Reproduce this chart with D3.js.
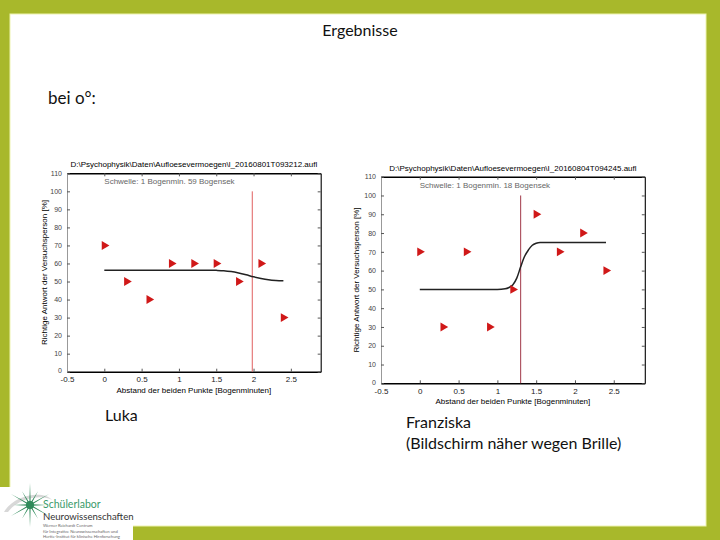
<!DOCTYPE html>
<html>
<head>
<meta charset="utf-8">
<script src="https://cdn.jsdelivr.net/npm/d3@7"></script>
<style>
  body { margin: 0; padding: 0; background: #fff; }
  svg { display: block; }
</style>
</head>
<body>
<div id="slide"></div>
<script>
// ---- data ----
const xTicks = [-0.5, 0, 0.5, 1, 1.5, 2, 2.5];
const yTicks = [0, 10, 20, 30, 40, 50, 60, 70, 80, 90, 100, 110];

// Luka
const lukaX = [0, 0.3, 0.6, 0.9, 1.2, 1.5, 1.8, 2.1, 2.4];
const lukaY = [70, 50, 40, 60, 60, 60, 50, 60, 30];
const lukaCurveX = [0, 0.5, 1.0, 1.4, 1.5, 1.6, 1.7, 1.8, 1.9, 2.0, 2.1, 2.2, 2.3, 2.4];
const lukaCurveY = [56.3, 56.3, 56.3, 56.3, 56.2, 56.0, 55.5, 54.7, 53.7, 52.6, 51.7, 51.0, 50.6, 50.4];
const lukaThreshold = 1.983;

// Franziska
const franzX = [0, 0.3, 0.6, 0.9, 1.2, 1.5, 1.8, 2.1, 2.4];
const franzY = [70, 30, 70, 30, 50, 90, 70, 80, 60];
const franzCurveX = [0, 0.5, 1.0, 1.1, 1.15, 1.2, 1.25, 1.3, 1.35, 1.4, 1.45, 1.5, 1.55, 1.6, 2.0, 2.4];
const franzCurveY = [50, 50, 50, 50.3, 51, 52.5, 56, 62, 67.5, 71, 73.5, 74.6, 75, 75, 75, 75];
const franzThreshold = 1.3;

const W = 720, H = 540;
const svg = d3.select("#slide").append("svg")
  .attr("width", W).attr("height", H)
  .style("font-family", "Lato, 'Open Sans', sans-serif");

// slide frame
svg.append("rect").attr("width", W).attr("height", H).attr("fill", "#a8b82b");
svg.append("rect").attr("x", 10).attr("y", 14).attr("width", 696).attr("height", 512)
  .attr("fill", "#fff").attr("stroke", "#eef3b0").attr("stroke-width", 1);

// slide texts
svg.append("text").attr("x", 360).attr("y", 36).attr("text-anchor", "middle")
  .attr("font-size", 16).attr("fill", "#111").text("Ergebnisse");
svg.append("text").attr("x", 48).attr("y", 104)
  .attr("font-size", 17).attr("fill", "#111").text("bei o°:");
svg.append("text").attr("x", 105).attr("y", 421)
  .attr("font-size", 16).attr("fill", "#111").text("Luka");
svg.append("text").attr("x", 406).attr("y", 428)
  .attr("font-size", 16).attr("fill", "#111").text("Franziska");
svg.append("text").attr("x", 406).attr("y", 449)
  .attr("font-size", 16).attr("fill", "#111").text("(Bildschirm näher wegen Brille)");

function drawChart(cfg) {
  const x = d3.scaleLinear().domain([-0.5, 2.9]).range([cfg.left, cfg.right]);
  const y = d3.scaleLinear().domain([0, 110]).range([cfg.bottom, cfg.top]);
  const g = svg.append("g").style("font-family", "'Liberation Sans', Arial, sans-serif");
  const fmt = d => String(d);

  // axes with inward ticks (MATLAB style)
  g.append("g").attr("class", "xb").attr("transform", `translate(0,${cfg.bottom})`)
    .call(d3.axisBottom(x).tickValues(xTicks).tickFormat(fmt).tickSizeInner(-3).tickSizeOuter(0).tickPadding(5))
    .call(a => a.selectAll("text").attr("font-size", 8).attr("fill", "#222"));
  g.append("g").attr("class", "xt").attr("transform", `translate(0,${cfg.top})`)
    .call(d3.axisTop(x).tickValues(xTicks).tickFormat("").tickSizeInner(-3).tickSizeOuter(0));
  g.append("g").attr("class", "yl").attr("transform", `translate(${cfg.left},0)`)
    .call(d3.axisLeft(y).tickValues(yTicks).tickFormat(fmt).tickSizeInner(-3).tickSizeOuter(0).tickPadding(5))
    .call(a => a.selectAll("text").attr("font-size", 7).attr("fill", "#444"))
    .call(a => a.selectAll(".tick").filter(d => d === 0).select("text").attr("dy", "0.1em"));
  g.append("g").attr("class", "yr").attr("transform", `translate(${cfg.right},0)`)
    .call(d3.axisRight(y).tickValues(yTicks).tickFormat("").tickSizeInner(-3).tickSizeOuter(0));
  g.selectAll(".tick line").attr("stroke", "#555");
  g.selectAll(".xb .domain, .xt .domain").attr("stroke", "#000").attr("stroke-width", 1.4);
  g.selectAll(".yr .domain").attr("stroke", "#000").attr("stroke-width", 1.1);
  g.selectAll(".yl .domain").attr("stroke", "#999");

  // title + threshold note
  g.append("text").attr("x", (cfg.left + cfg.right) / 2).attr("y", cfg.top - 6)
    .attr("text-anchor", "middle").attr("font-size", 8).attr("fill", "#000").text(cfg.title);
  g.append("text").attr("x", x(0)).attr("y", cfg.top + 11)
    .attr("font-size", 8).attr("fill", "#666").text(cfg.note);

  // axis labels
  g.append("text").attr("x", (cfg.left + cfg.right) / 2).attr("y", cfg.bottom + 21)
    .attr("text-anchor", "middle").attr("font-size", 8).attr("fill", "#000")
    .text("Abstand der beiden Punkte [Bogenminuten]");
  g.append("text")
    .attr("transform", `translate(${cfg.ylabelX},${(cfg.top + cfg.bottom) / 2}) rotate(-90)`)
    .attr("text-anchor", "middle").attr("font-size", 8).attr("fill", "#000")
    .text("Richtige Antwort der Versuchsperson [%]");

  // threshold line
  g.append("line")
    .attr("x1", x(cfg.threshold)).attr("x2", x(cfg.threshold))
    .attr("y1", y(100)).attr("y2", y(0))
    .attr("stroke", cfg.thrColor).attr("stroke-width", 1);

  // fitted curve
  const pts = cfg.curveX.map((v, i) => [v, cfg.curveY[i]]);
  g.append("path").datum(pts)
    .attr("d", d3.line().x(d => x(d[0])).y(d => y(d[1])).curve(d3.curveMonotoneX))
    .attr("fill", "none").attr("stroke", "#222").attr("stroke-width", 1.5);

  // data markers (right-pointing triangles)
  const tri = d3.symbol().type(d3.symbolTriangle).size(34);
  g.selectAll(".pt").data(cfg.px.map((v, i) => [v, cfg.py[i]])).join("path")
    .attr("d", tri)
    .attr("transform", d => `translate(${x(d[0])},${y(d[1])}) rotate(90)`)
    .attr("fill", "#d01818");
}

drawChart({
  left: 67, right: 320.7, top: 173.3, bottom: 371.7, ylabelX: 47,
  title: "D:\\Psychophysik\\Daten\\Aufloesevermoegen\\l_20160801T093212.aufl",
  note: "Schwelle: 1 Bogenmin. 59 Bogensek",
  threshold: lukaThreshold, thrColor: "#e06060",
  px: lukaX, py: lukaY, curveX: lukaCurveX, curveY: lukaCurveY
});

drawChart({
  left: 381, right: 644.8, top: 176.7, bottom: 383.3, ylabelX: 359,
  title: "D:\\Psychophysik\\Daten\\Aufloesevermoegen\\I_20160804T094245.aufl",
  note: "Schwelle: 1 Bogenmin. 18 Bogensek",
  threshold: franzThreshold, thrColor: "#a03848",
  px: franzX, py: franzY, curveX: franzCurveX, curveY: franzCurveY
});

// logo block bottom-left
const logo = svg.append("g");
logo.append("rect").attr("x", 0).attr("y", 487).attr("width", 133).attr("height", 53).attr("fill", "#fff");
logo.append("path")
  .attr("d", "M4,512 C14,494 44,490 52,500 C42,494 18,498 8,512 Z")
  .attr("fill", "#d8d8d8");
const starPts = [];
const nRays = 12;
for (let i = 0; i < nRays * 2; i++) {
  const a = Math.PI * i / nRays - Math.PI / 2;
  const r = i % 2 === 0 ? (i % 4 === 0 ? 22 : 16) : 2.5;
  starPts.push([30 + r * Math.cos(a), 505 + r * Math.sin(a)]);
}
logo.append("path").attr("d", d3.line()(starPts) + "Z").attr("fill", "#2f8a5a");
logo.append("circle").attr("cx", 30).attr("cy", 505).attr("r", 4).attr("fill", "#2f8a5a");
logo.append("text").attr("x", 43).attr("y", 508).attr("font-size", 10.5)
  .attr("fill", "#3a9a6a").text("Schülerlabor");
logo.append("text").attr("x", 43).attr("y", 520).attr("font-size", 9.6)
  .attr("fill", "#333").text("Neurowissenschaften");
const small = ["Werner Reichardt Centrum", "für Integrative Neurowissenschaften und", "Hertie-Institut für klinische Hirnforschung"];
small.forEach((s, i) => {
  logo.append("text").attr("x", 43).attr("y", 527 + i * 5.5).attr("font-size", 4.2)
    .attr("fill", "#666").text(s);
});
</script>
</body>
</html>
